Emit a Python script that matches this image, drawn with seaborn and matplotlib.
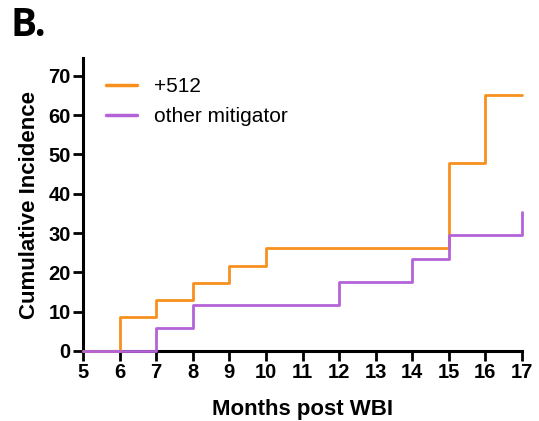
import matplotlib
matplotlib.use("Agg")
import matplotlib.pyplot as plt
import seaborn as sns
import pandas as pd

# Cumulative incidence (%) by month after whole-brain irradiation
months_512 = [5, 6, 7, 8, 9, 10, 15, 16, 17]
incidence_512 = [0, 8.7, 13.0, 17.4, 21.7, 26.1, 47.8, 65.2, 65.2]
months_other = [5, 7, 8, 12, 14, 15, 17]
incidence_other = [0, 5.9, 11.8, 17.6, 23.5, 29.4, 35.3]
x_ticks = list(range(5, 18))
y_ticks = list(range(0, 71, 10))

sns.set_theme(style="ticks")
plt.rcParams["font.family"] = ["Liberation Sans", "DejaVu Sans"]
plt.rcParams["text.color"] = "black"
plt.rcParams["axes.labelcolor"] = "black"

df = pd.concat([
    pd.DataFrame({"month": months_512, "inc": incidence_512, "group": "+512"}),
    pd.DataFrame({"month": months_other, "inc": incidence_other, "group": "other mitigator"}),
])

fig = plt.figure(figsize=(5.39, 4.21), dpi=100)
ax = fig.add_axes([0.154, 0.1663, 0.8145, 0.6957])

palette = {"+512": "#F7901E", "other mitigator": "#B462D8"}
sns.lineplot(data=df, x="month", y="inc", hue="group", palette=palette,
             drawstyle="steps-post", linewidth=2.0, ax=ax, estimator=None,
             sort=False, clip_on=False, zorder=3)

ax.set_xlim(5, 17)
ax.set_ylim(0, 74.5)
ax.set_xticks(x_ticks)
ax.set_yticks(y_ticks)
ax.tick_params(axis="both", width=2, length=7, labelsize=14.5, pad=2,
               color="black", labelcolor="black")
for lab in ax.get_xticklabels() + ax.get_yticklabels():
    lab.set_fontweight("bold")

sns.despine(ax=ax)
for s in ("left", "bottom"):
    ax.spines[s].set_linewidth(2.2)
    ax.spines[s].set_color("black")

ax.set_xlabel("Months post WBI", fontsize=16, fontweight="bold", labelpad=12)
ax.set_ylabel("Cumulative Incidence", fontsize=16, fontweight="bold", labelpad=6)

leg = ax.legend(loc="upper left", frameon=False, fontsize=15,
                handlelength=1.5, handletextpad=0.8, labelspacing=0.55,
                bbox_to_anchor=(0.009, 1.0))
for line in leg.get_lines():
    line.set_linewidth(2.5)
for t in leg.get_texts():
    t.set_color("black")

fig.text(0.02, 0.985, "B.", fontsize=28, fontweight="bold",
         family=["Open Sans", "DejaVu Sans"], va="top", ha="left")

fig.savefig("out.png", dpi=100)
